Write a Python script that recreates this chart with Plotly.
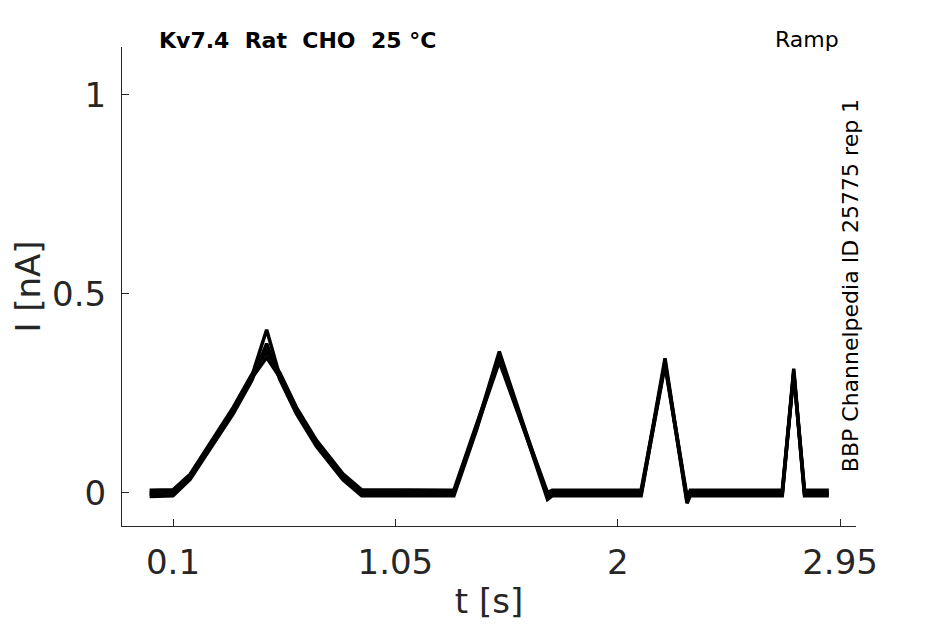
import plotly.graph_objects as go

# ramp protocol sweeps, time in s, current in nA
t_s = [0.0, 0.1, 0.173, 0.265, 0.357, 0.436, 0.484, 0.50, 0.557, 0.627, 0.713,
       0.826, 0.906, 1.30, 1.397, 1.494, 1.70, 1.72, 2.10, 2.202, 2.296, 2.31,
       2.703, 2.752, 2.798, 2.902]

sweep_1 = [0.0, 0.0, 0.041, 0.125, 0.208, 0.292, 0.376, 0.41, 0.292, 0.208, 0.125,
           0.041, 0.0, 0.0, 0.167, 0.355, -0.01, 0.0, 0.0, 0.338, -0.02, 0.0,
           0.0, 0.312, 0.0, 0.0]
sweep_2 = [-0.009, -0.007, 0.034, 0.117, 0.199, 0.282, 0.350, 0.375, 0.284, 0.199, 0.117,
           0.033, -0.007, -0.007, 0.159, 0.345, -0.016, -0.007, -0.007, 0.330, -0.026, -0.007,
           -0.007, 0.305, -0.007, -0.007]
sweep_3 = [0.007, 0.008, 0.047, 0.131, 0.215, 0.297, 0.338, 0.355, 0.301, 0.215, 0.132,
           0.048, 0.008, 0.007, 0.173, 0.335, 0.001, 0.007, 0.007, 0.325, -0.009, 0.007,
           0.007, 0.300, 0.007, 0.007]
sweep_4 = [-0.003, 0.002, 0.038, 0.121, 0.204, 0.288, 0.325, 0.34, 0.290, 0.205, 0.121,
           0.038, 0.002, -0.002, 0.164, 0.330, -0.005, -0.002, -0.002, 0.320, -0.015, -0.002,
           -0.002, 0.300, -0.002, -0.002]

sweeps = [sweep_1, sweep_2, sweep_3, sweep_4]

x_ticks = [0.1, 1.05, 2, 2.95]
x_tick_labels = ["0.1", "1.05", "2", "2.95"]
y_ticks = [0, 0.5, 1]
y_tick_labels = ["0", "0.5", "1"]

fig = go.Figure()
for s in sweeps:
    fig.add_trace(go.Scatter(x=t_s, y=s, mode="lines",
                             line=dict(color="black", width=3.5),
                             showlegend=False))

axis_col = "#262626"
fig.update_xaxes(range=[-0.118, 3.018], tickvals=x_ticks, ticktext=x_tick_labels,
                 ticks="inside", ticklen=7, tickcolor=axis_col, showline=True,
                 linecolor=axis_col, linewidth=1, showgrid=False, zeroline=False,
                 tickfont=dict(size=34, color=axis_col), ticklabelstandoff=6,
                 title=dict(text="t [s]", font=dict(size=34, color=axis_col), standoff=8))
fig.update_yaxes(range=[-0.083, 1.12], tickvals=y_ticks, ticktext=y_tick_labels,
                 ticks="inside", ticklen=7, tickcolor=axis_col, showline=True,
                 linecolor=axis_col, linewidth=1, showgrid=False, zeroline=False,
                 tickfont=dict(size=34, color=axis_col), ticklabelstandoff=8,
                 title=dict(text="I [nA]", font=dict(size=34, color=axis_col), standoff=6))

fig.add_annotation(text="<b>Kv7.4  Rat  CHO  25 °C</b>", xref="paper", yref="paper",
                   x=0.239, y=1.0146, showarrow=False, xanchor="center", yanchor="middle",
                   font=dict(size=22, color="black"))
fig.add_annotation(text="Ramp", xref="paper", yref="paper", x=0.933, y=1.0167,
                   showarrow=False, xanchor="center", yanchor="middle",
                   font=dict(size=22, color="black"))
fig.add_annotation(text="BBP Channelpedia ID 25775 rep 1", xref="paper", yref="paper",
                   x=0.992, y=0.501, showarrow=False, textangle=-90,
                   xanchor="center", yanchor="middle", font=dict(size=22, color="black"))

# page body adds ~8px offset, so margins are shifted to land the axes where the reference has them
fig.update_layout(width=945, height=624, paper_bgcolor="white", plot_bgcolor="white",
                  font=dict(family="DejaVu Sans"),
                  margin=dict(l=114, r=97, t=39, b=106))

fig.write_html("out.html")
